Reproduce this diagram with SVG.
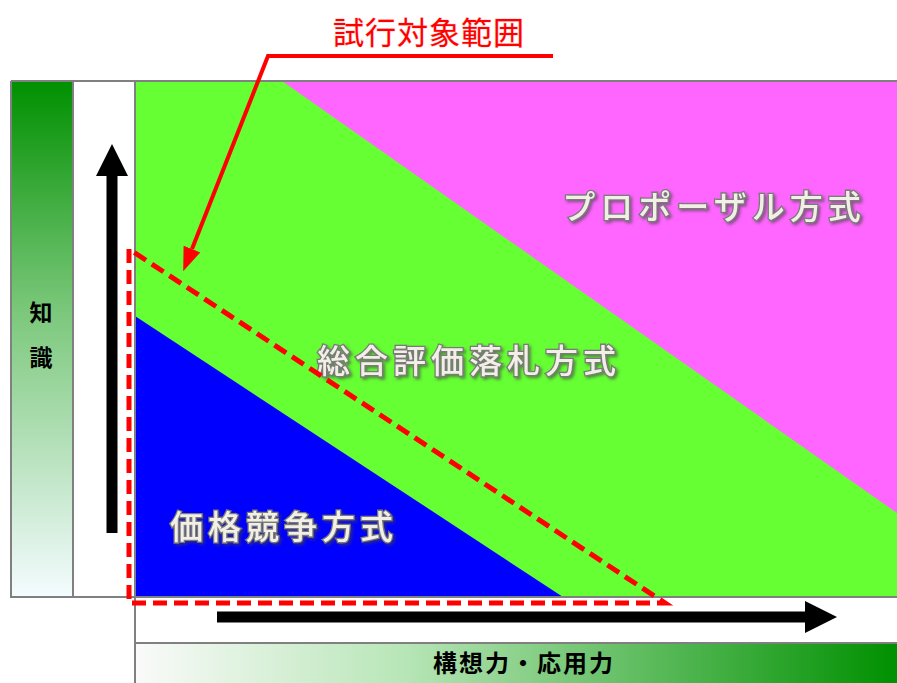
<svg xmlns="http://www.w3.org/2000/svg" width="897" height="683" viewBox="0 0 897 683">
<style>
.frame{fill:none;stroke:#808080;stroke-width:2}
.lbl{font-family:"Noto Sans CJK JP","Noto Sans",sans-serif;font-size:33px;font-weight:500;letter-spacing:5px;fill:#f2f0e6;stroke:#7a7a7a;stroke-width:2.6px;paint-order:stroke;text-anchor:middle;filter:url(#sh)}
.axis{font-family:"Noto Sans CJK JP","Noto Sans",sans-serif;font-weight:bold;fill:#000;text-anchor:middle}
.title{font-family:"Noto Sans CJK JP","Noto Sans",sans-serif;font-size:31px;letter-spacing:1px;fill:#ff0000;stroke:#ffd0d0;stroke-width:1px;paint-order:stroke;text-anchor:middle}
.blk{stroke:#000;stroke-width:11;fill:none}
</style>
<defs>
<linearGradient id="gv" x1="0" y1="0" x2="0" y2="1">
<stop offset="0" stop-color="#009000"/>
<stop offset="0.45" stop-color="#7cc87c"/>
<stop offset="1" stop-color="#f4fcff"/>
</linearGradient>
<linearGradient id="gh" x1="0" y1="0" x2="1" y2="0">
<stop offset="0" stop-color="#fafafa"/>
<stop offset="0.35" stop-color="#b8e6b8"/>
<stop offset="1" stop-color="#009000"/>
</linearGradient>
<filter id="sh" x="-10%" y="-30%" width="120%" height="160%">
<feDropShadow dx="2" dy="2" stdDeviation="1.5" flood-color="#404040" flood-opacity="0.6"/>
</filter>
<marker id="ah" markerUnits="userSpaceOnUse" viewBox="0 0 32 32" markerWidth="32" markerHeight="32" refX="0" refY="16" orient="auto">
<path d="M0,0 L32,16 L0,32 z" fill="#000"/>
</marker>
<marker id="rh" markerUnits="userSpaceOnUse" viewBox="0 0 24 18" markerWidth="24" markerHeight="18" refX="0" refY="9" orient="auto">
<path d="M0,0 L24,9 L0,18 z" fill="#ff0000"/>
</marker>
</defs>
<rect width="897" height="683" fill="#fff"/>
<g id="regions">
<rect x="135" y="81" width="762" height="516" fill="#66ff33"/>
<polygon points="282,81 897,81 897,513" fill="#ff66ff"/>
<polygon points="135,316 563,597 135,597" fill="#0000ff"/>
</g>
<g id="knowledge-axis">
<rect x="11" y="81" width="62" height="516" fill="url(#gv)"/>
<text class="axis" x="41" y="321" font-size="23">知</text>
<text class="axis" x="41" y="366" font-size="23">識</text>
</g>
<g id="application-axis">
<rect x="135" y="643" width="762" height="40" fill="url(#gh)"/>
<text class="axis" x="524" y="672" font-size="24" letter-spacing="2">構想力・応用力</text>
</g>
<g id="frame">
<path class="frame" d="M11,81 H897 M11,81 V597 H897 M73,81 V597 M135,81 V683 M135,643 H897"/>
</g>
<g id="proposal"><text class="lbl" x="714" y="219">プロポーザル方式</text></g>
<g id="comprehensive"><text class="lbl" x="469" y="373">総合評価落札方式</text></g>
<g id="price"><text class="lbl" x="284" y="539">価格競争方式</text></g>
<g id="trial-scope">
<path d="M129,249 L129,603 L665,603 Z" fill="none" stroke="#ff0000" stroke-width="5" stroke-dasharray="14,7"/>
</g>
<g id="trial-label"><text class="title" x="429" y="44">試行対象範囲</text></g>
<g id="connectors">
<line class="blk" x1="112" y1="533" x2="112" y2="176" marker-end="url(#ah)"/>
<line class="blk" x1="217" y1="617" x2="805" y2="617" marker-end="url(#ah)"/>
<polyline points="553,56 268,56 192,249" fill="none" stroke="#ff0000" stroke-width="4" marker-end="url(#rh)"/>
</g>
</svg>
